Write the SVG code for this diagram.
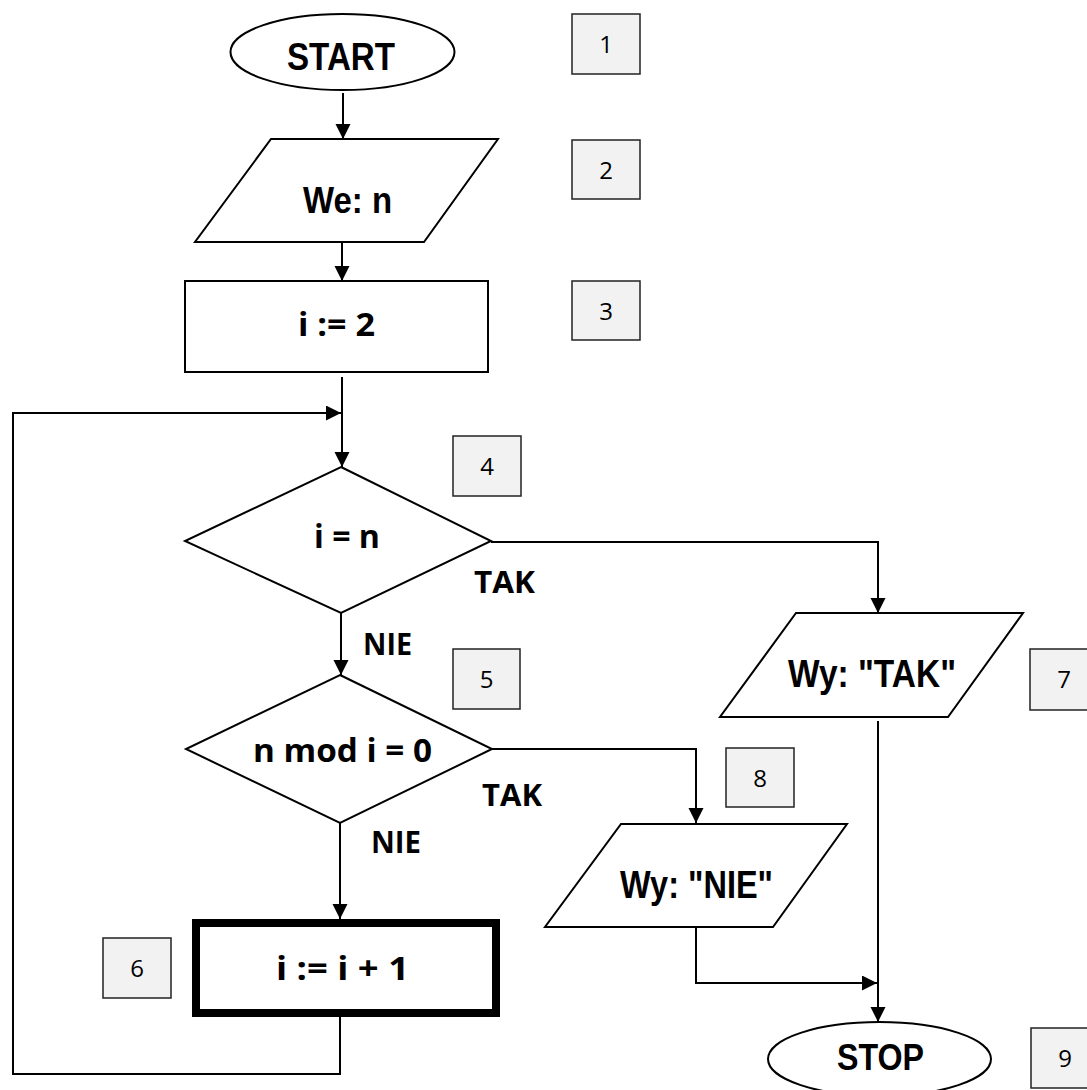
<svg xmlns="http://www.w3.org/2000/svg" width="1087" height="1090" viewBox="0 0 1087 1090">
  <defs>
    <marker id="arr" markerUnits="userSpaceOnUse" markerWidth="16" markerHeight="16" refX="15" refY="7.5" orient="auto">
      <path d="M0,0 L15,7.5 L0,15 z" fill="#000"/>
    </marker>
    <style>
      .shape { fill: #fff; stroke: #000; stroke-width: 2; }
      .num { fill: #f2f2f2; stroke: #222; stroke-width: 1.5; }
      .numt { font-family: "Open Sans", "Liberation Sans", sans-serif; font-size: 24px; fill: #000; text-anchor: middle; }
      .narrow { font-family: "Liberation Sans", Arial, sans-serif; font-weight: bold; fill: #000; text-anchor: middle; }
      .cal { font-family: "Open Sans", "Liberation Sans", sans-serif; font-weight: bold; font-size: 33px; fill: #000; text-anchor: middle; }
      .lab { font-family: "Open Sans", "Liberation Sans", sans-serif; font-weight: bold; font-size: 30px; fill: #000; text-anchor: middle; }
      .conn { fill: none; stroke: #000; stroke-width: 2; }
    </style>
  </defs>
  <rect width="1087" height="1090" fill="#fff"/>

  <g id="connectors">
    <line class="conn" x1="343" y1="93" x2="343" y2="139" marker-end="url(#arr)"/>
    <line class="conn" x1="342" y1="239" x2="342" y2="281" marker-end="url(#arr)"/>
    <line class="conn" x1="342" y1="377" x2="342" y2="467" marker-end="url(#arr)"/>
    <polyline class="conn" points="340,1017 340,1074 13,1074 13,413 341,413" marker-end="url(#arr)"/>
    <polyline class="conn" points="491,542 878,542 878,613" marker-end="url(#arr)"/>
    <line class="conn" x1="341" y1="613" x2="341" y2="675" marker-end="url(#arr)"/>
    <polyline class="conn" points="492,749 696,749 696,823" marker-end="url(#arr)"/>
    <line class="conn" x1="340" y1="823" x2="340" y2="919" marker-end="url(#arr)"/>
    <line class="conn" x1="878" y1="721" x2="878" y2="1022" marker-end="url(#arr)"/>
    <polyline class="conn" points="696,927 696,983 877,983" marker-end="url(#arr)"/>
  </g>

  <g id="n1">
    <ellipse class="shape" cx="342.5" cy="52" rx="112" ry="38"/>
    <text class="narrow" x="341" y="70" font-size="38" textLength="108" lengthAdjust="spacingAndGlyphs">START</text>
  </g>
  <g id="n2">
    <polygon class="shape" points="271,139 498,139 424,242 195,242"/>
    <text class="narrow" x="347.5" y="213" font-size="36" textLength="89" lengthAdjust="spacingAndGlyphs">We: n</text>
  </g>
  <g id="n3">
    <rect class="shape" x="185" y="281" width="303" height="91"/>
    <text class="cal" x="336.5" y="336" textLength="77" lengthAdjust="spacingAndGlyphs">i := 2</text>
  </g>
  <g id="n4">
    <polygon class="shape" points="341,467 491,541 341,613 185,541"/>
    <text class="cal" x="347" y="548" textLength="66" lengthAdjust="spacingAndGlyphs">i = n</text>
  </g>
  <g id="n5">
    <polygon class="shape" points="340,675 492,749 340,823 186,749"/>
    <text class="cal" x="342.5" y="762" textLength="179" lengthAdjust="spacingAndGlyphs">n mod i = 0</text>
  </g>
  <g id="n6">
    <rect x="196" y="923" width="300" height="90" fill="#fff" stroke="#000" stroke-width="8"/>
    <text class="cal" x="342.5" y="980" textLength="133" lengthAdjust="spacingAndGlyphs">i := i + 1</text>
  </g>
  <g id="n7">
    <polygon class="shape" points="796,613 1023,613 948,717 720,717"/>
    <text class="narrow" x="872" y="687" font-size="39" textLength="168" lengthAdjust="spacingAndGlyphs">Wy: "TAK"</text>
  </g>
  <g id="n8">
    <polygon class="shape" points="621,824 847,824 773,927 545,927"/>
    <text class="narrow" x="696.5" y="898" font-size="39" textLength="153" lengthAdjust="spacingAndGlyphs">Wy: "NIE"</text>
  </g>
  <g id="n9">
    <ellipse class="shape" cx="879.5" cy="1059" rx="111.5" ry="37"/>
    <text class="narrow" x="880.5" y="1070" font-size="36" textLength="87" lengthAdjust="spacingAndGlyphs">STOP</text>
  </g>

  <g id="labels">
    <text class="lab" x="504.5" y="593" textLength="61" lengthAdjust="spacingAndGlyphs">TAK</text>
    <text class="lab" x="387.5" y="655" textLength="49" lengthAdjust="spacingAndGlyphs">NIE</text>
    <text class="lab" x="512" y="806" textLength="60" lengthAdjust="spacingAndGlyphs">TAK</text>
    <text class="lab" x="396" y="853" textLength="50" lengthAdjust="spacingAndGlyphs">NIE</text>
  </g>

  <g id="b1"><rect class="num" x="572" y="14" width="68" height="60"/><text class="numt" x="606" y="53">1</text></g>
  <g id="b2"><rect class="num" x="572" y="140" width="68" height="59"/><text class="numt" x="606" y="179">2</text></g>
  <g id="b3"><rect class="num" x="572" y="281" width="68" height="59"/><text class="numt" x="606" y="320">3</text></g>
  <g id="b4"><rect class="num" x="453" y="436" width="68" height="60"/><text class="numt" x="487" y="475">4</text></g>
  <g id="b5"><rect class="num" x="453" y="649" width="67" height="60"/><text class="numt" x="486.5" y="688">5</text></g>
  <g id="b6"><rect class="num" x="103" y="938" width="68" height="60"/><text class="numt" x="137" y="977">6</text></g>
  <g id="b7"><rect class="num" x="1030" y="649" width="68" height="61"/><text class="numt" x="1064" y="688">7</text></g>
  <g id="b8"><rect class="num" x="726" y="748" width="68" height="59"/><text class="numt" x="760" y="787">8</text></g>
  <g id="b9"><rect class="num" x="1031" y="1028" width="68" height="60"/><text class="numt" x="1065" y="1067">9</text></g>
</svg>
